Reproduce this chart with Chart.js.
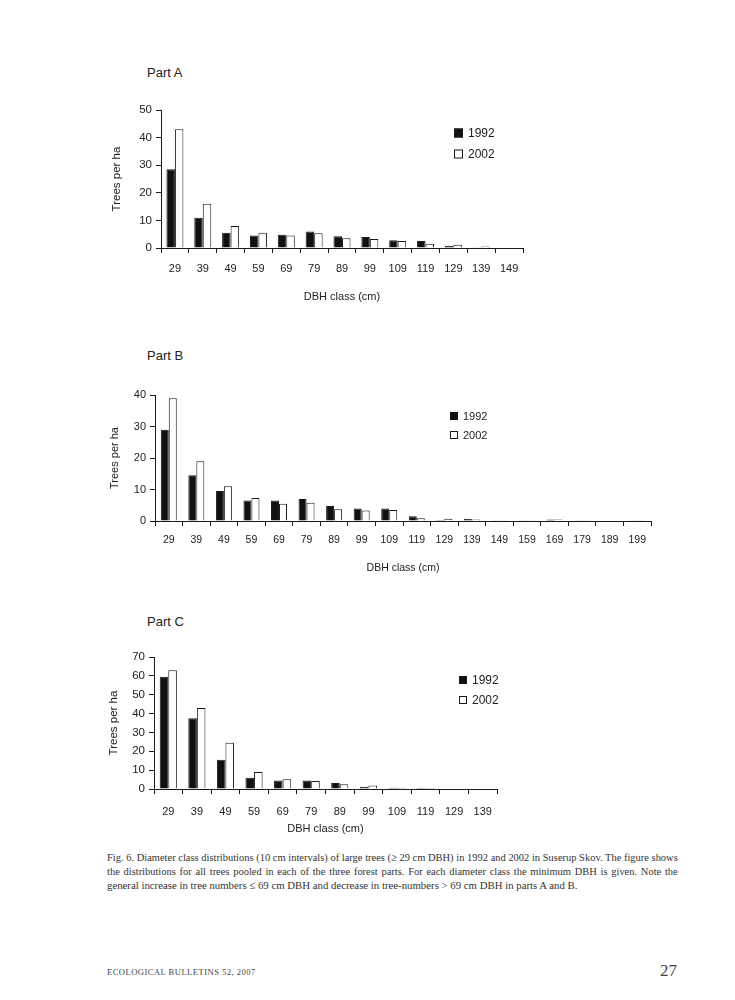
<!DOCTYPE html>
<html>
<head>
<meta charset="utf-8">
<script src="https://cdn.jsdelivr.net/npm/chart.js@4.4.1/dist/chart.umd.min.js"></script>
<style>
  html, body { margin: 0; padding: 0; background: #fff; }
  body { width: 735px; height: 1000px; position: relative; overflow: hidden; }
  canvas { position: absolute; left: 0; }
  .part { position: absolute; font-family: "Liberation Sans", Arial, sans-serif; font-size: 13px; color: #222; }
  .cap { position: absolute; left: 107px; font-family: "Liberation Serif", "DejaVu Serif", serif; font-size: 11.3px; color: #333; white-space: nowrap;
         transform: scaleX(0.925); transform-origin: 0 0; }
  .just { width: 617px; text-align: justify; text-align-last: justify; }
  .foot { position: absolute; font-family: "Liberation Serif", serif; color: #444; white-space: nowrap; }
</style>
</head>
<body>
<div class="part" style="left:147px; top:65px;">Part A</div>
<div class="part" style="left:147px; top:348px;">Part B</div>
<div class="part" style="left:147px; top:614px;">Part C</div>

<canvas id="cA" width="735" height="220" style="top:95px;"></canvas>
<canvas id="cB" width="735" height="210" style="top:380px;"></canvas>
<canvas id="cC" width="735" height="210" style="top:640px;"></canvas>

<div class="cap just" style="top:851px;">Fig. 6. Diameter class distributions (10 cm intervals) of large trees (≥ 29 cm DBH) in 1992 and 2002 in Suserup Skov. The figure shows</div>
<div class="cap just" style="top:865px;">the distributions for all trees pooled in each of the three forest parts. For each diameter class the minimum DBH is given. Note the</div>
<div class="cap" style="top:879px; transform: scaleX(0.955);">general increase in tree numbers ≤ 69 cm DBH and decrease in tree-numbers &gt; 69 cm DBH in parts A and B.</div>

<div class="foot" style="left:107px; top:967px; font-size:8.5px; letter-spacing:0.5px;">ECOLOGICAL BULLETINS 52, 2007</div>
<div class="foot" style="left:660px; top:961px; font-size:17px;">27</div>

<script>
// ---------- DATA ----------
const seriesLabels = ['1992', '2002'];

const catsA = ['29','39','49','59','69','79','89','99','109','119','129','139','149'];
const a1992 = [28.5, 11, 5.5, 4.5, 4.8, 6, 4.3, 4, 2.8, 2.5, 0.8, 0.3, 0.2];
const a2002 = [43, 16, 8, 5.5, 4.5, 5.3, 3.5, 3.3, 2.5, 1.5, 1.2, 0.5, 0.2];
const yTicksA = [0, 10, 20, 30, 40, 50];

const catsB = ['29','39','49','59','69','79','89','99','109','119','129','139','149','159','169','179','189','199'];
const b1992 = [29, 14.5, 9.5, 6.5, 6.5, 7, 4.8, 4, 4, 1.5, 0.3, 0.7, 0.2, 0.2, 0.5, 0.1, 0, 0.2];
const b2002 = [39, 19, 11, 7.3, 5.5, 5.8, 3.7, 3.3, 3.5, 0.9, 0.7, 0.5, 0.1, 0.2, 0.5, 0.2, 0, 0.2];
const yTicksB = [0, 10, 20, 30, 40];

const catsC = ['29','39','49','59','69','79','89','99','109','119','129','139'];
const c1992 = [59.5, 37.5, 15.5, 6, 4.5, 4.5, 3.2, 1.2, 0.7, 0.5, 0.2, 0.2];
const c2002 = [63, 43, 24.5, 9, 5.2, 4.3, 2.5, 1.8, 0.6, 0.5, 0.2, 0.2];
const yTicksC = [0, 10, 20, 30, 40, 50, 60, 70];

const xTitle = 'DBH class (cm)';
const yTitle = 'Trees per ha';

// ---------- RENDERING ----------
const FONT = '"Liberation Sans", Arial, sans-serif';
const INK = '#1a1a1a';

const boxLegend = {
  id: 'boxLegend',
  afterDraw(chart, args, o) {
    const ctx = chart.ctx;
    ctx.save();
    chart.data.datasets.forEach((ds, i) => {
      const y = o.y + i * o.gap;
      ctx.fillStyle = ds.backgroundColor;
      ctx.fillRect(o.x, y - o.box / 2, o.box, o.box);
      ctx.strokeStyle = INK;
      ctx.lineWidth = 1;
      ctx.strokeRect(o.x + 0.5, y - o.box / 2 + 0.5, o.box - 1, o.box - 1);
      ctx.fillStyle = '#222';
      ctx.font = 'normal ' + o.size + 'px ' + FONT;
      ctx.textBaseline = 'middle';
      ctx.textAlign = 'left';
      ctx.fillText(ds.label, o.x + o.box + o.textGap, y + 0.5);
    });
    ctx.restore();
  }
};

function makeChart(id, cats, v1, v2, yTicks, g) {
  const yMax = yTicks[yTicks.length - 1];
  const step = yTicks[1] - yTicks[0];
  return new Chart(document.getElementById(id), {
    type: 'bar',
    data: {
      labels: cats,
      datasets: [
        { label: seriesLabels[0], data: v1, backgroundColor: '#111', borderColor: INK, borderWidth: 1,
          categoryPercentage: g.cat, barPercentage: 1.0 },
        { label: seriesLabels[1], data: v2, backgroundColor: '#fff', borderColor: INK, borderWidth: 1,
          categoryPercentage: g.cat, barPercentage: 1.0 }
      ]
    },
    options: {
      responsive: false,
      animation: false,
      devicePixelRatio: 1,
      layout: { padding: { left: g.padL, right: g.padR, top: g.padT, bottom: g.padB } },
      plugins: {
        legend: { display: false },
        tooltip: { enabled: false },
        boxLegend: g.legend
      },
      scales: {
        x: {
          offset: true,
          grid: { offset: true, drawOnChartArea: false, drawTicks: true, tickLength: 5, color: INK, lineWidth: 1 },
          border: { display: true, color: INK, width: 1 },
          ticks: { color: '#222', font: { family: FONT, size: g.fs, weight: 'normal' }, padding: g.xPad, maxRotation: 0, autoSkip: false },
          title: { display: true, text: xTitle, color: '#222', font: { family: FONT, size: g.fs, weight: 'normal' } },
          afterFit(s) { s.height = g.xH; }
        },
        y: {
          min: 0, max: yMax,
          grid: { drawOnChartArea: false, drawTicks: true, tickLength: 5, color: INK, lineWidth: 1 },
          border: { display: true, color: INK, width: 1 },
          ticks: { stepSize: step, color: '#222', font: { family: FONT, size: g.fs + 0.5, weight: 'normal' }, padding: 4 },
          title: { display: true, text: yTitle, color: '#222', font: { family: FONT, size: g.fs + 0.5, weight: 'normal' } },
          afterFit(s) { s.width = g.yW; }
        }
      }
    },
    plugins: [boxLegend]
  });
}

makeChart('cA', catsA, a1992, a2002, yTicksA, {
  padL: 106, yW: 55, padR: 212, padT: 15, padB: 7, xH: 60, xPad: 9, fs: 11, cat: 0.61,
  legend: { x: 454, y: 38, gap: 21, box: 9, textGap: 5, size: 12 }
});
makeChart('cB', catsB, b1992, b2002, yTicksB, {
  padL: 104, yW: 51, padR: 84, padT: 15, padB: 12, xH: 57, xPad: 8, fs: 10.5, cat: 0.58,
  legend: { x: 450, y: 36, gap: 19, box: 8, textGap: 5, size: 11 }
});
makeChart('cC', catsC, c1992, c2002, yTicksC, {
  padL: 103, yW: 51, padR: 238, padT: 17, padB: 10, xH: 51, xPad: 11, fs: 11, cat: 0.6,
  legend: { x: 459, y: 40, gap: 20, box: 8, textGap: 5, size: 12 }
});
</script>
</body>
</html>
